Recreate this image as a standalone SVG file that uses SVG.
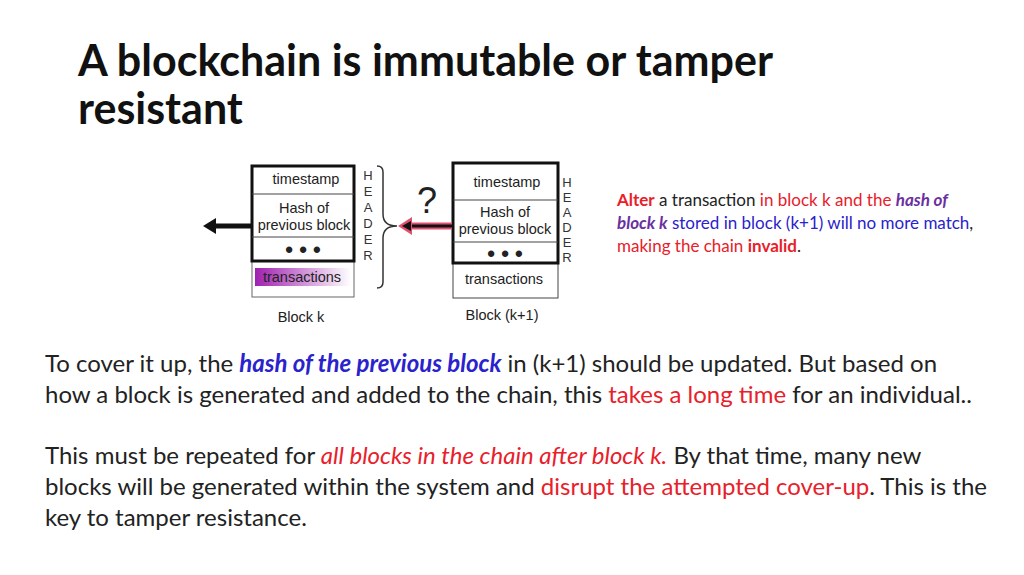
<svg xmlns="http://www.w3.org/2000/svg" width="1024" height="575" viewBox="0 0 1024 575">
<style>
.t{font-family:"Liberation Sans",Arial,sans-serif;font-size:14.5px;fill:#222;text-anchor:middle}
.h{font-family:"Liberation Sans",Arial,sans-serif;font-size:13px;fill:#333;text-anchor:middle}
.c{font-family:Lato,"Open Sans",sans-serif}
.r{fill:#e8202a}.b{fill:#2a22cc}.p{fill:#6a30a0;font-weight:bold;font-style:italic}
</style>
<defs>
<linearGradient id="g" x1="0" x2="1"><stop offset="0" stop-color="#a020b0"/><stop offset="1" stop-color="#fff"/></linearGradient>
</defs>
<rect width="1024" height="575" fill="#fff"/>
<text class="c" x="78" y="76" font-size="43" font-weight="bold" fill="#111">A blockchain is immutable or tamper</text>
<text class="c" x="78" y="124" font-size="43" font-weight="bold" fill="#111">resistant</text>
<g id="blockk">
<rect x="252" y="261" width="102" height="36" fill="#fff" stroke="#666"/>
<rect x="255" y="268" width="96" height="18" fill="url(#g)"/>
<text class="t" x="302" y="282">transactions</text>
<rect x="252" y="166" width="102" height="95" fill="#fff" stroke="#111" stroke-width="3"/>
<line x1="252" y1="194" x2="354" y2="194" stroke="#444"/>
<line x1="252" y1="237" x2="354" y2="237" stroke="#444"/>
<text class="t" x="306" y="184">timestamp</text>
<text class="t" x="304" y="213">Hash of</text>
<text class="t" x="304" y="230">previous block</text>
<text class="t" x="303" y="257" style="font-size:22px;font-weight:bold">• • •</text>
<text class="t" x="301" y="322">Block k</text>
<g class="h"><text x="368" y="180">H</text><text x="368" y="196">E</text><text x="368" y="212">A</text><text x="368" y="228">D</text><text x="368" y="244">E</text><text x="368" y="260">R</text></g>
</g>
<g id="blockk1">
<rect x="453" y="263" width="105" height="35" fill="#fff" stroke="#444"/>
<text class="t" x="504" y="284">transactions</text>
<rect x="453" y="163" width="105" height="100" fill="#fff" stroke="#111" stroke-width="3"/>
<line x1="453" y1="200" x2="558" y2="200" stroke="#444"/>
<line x1="453" y1="242" x2="558" y2="242" stroke="#444"/>
<text class="t" x="507" y="187">timestamp</text>
<text class="t" x="505" y="217">Hash of</text>
<text class="t" x="505" y="234">previous block</text>
<text class="t" x="505" y="261" style="font-size:22px;font-weight:bold">• • •</text>
<text class="t" x="502" y="320">Block (k+1)</text>
<g class="h"><text x="567" y="187">H</text><text x="567" y="202">E</text><text x="567" y="217">A</text><text x="567" y="232">D</text><text x="567" y="247">E</text><text x="567" y="262">R</text></g>
</g>
<g id="connectors">
<path d="M377,166 Q383,166 383,172 L383,214 Q383,226 397,226 Q383,226 383,238 L383,282 Q383,288 377,288" fill="none" stroke="#333" stroke-width="1.5"/>
<line x1="252" y1="226" x2="214" y2="226" stroke="#111" stroke-width="5"/>
<polygon points="203,226 216,218 216,234" fill="#111"/>
<line x1="452" y1="226" x2="410" y2="226" stroke="#e05070" stroke-width="7"/>
<line x1="452" y1="226" x2="410" y2="226" stroke="#111" stroke-width="3"/>
<polygon points="398,226 412,217 412,235" fill="#e05070"/>
<polygon points="402,226 411,221 411,231" fill="#111"/>
<text class="t" x="427" y="213" style="font-size:36px">?</text>
</g>
<g class="c" font-size="17" fill="#222">
<text x="617" y="206"><tspan class="r" font-weight="bold">Alter</tspan> a transaction <tspan class="r">in block k and the </tspan><tspan class="p">hash of</tspan></text>
<text x="617" y="229"><tspan class="p">block k</tspan><tspan class="b"> stored in block (k+1) will no more match</tspan>,</text>
<text x="617" y="252"><tspan class="r">making the chain </tspan><tspan class="r" font-weight="bold">invalid</tspan>.</text>
</g>
<g class="c" font-size="24" fill="#222">
<text x="45" y="372">To cover it up, the <tspan class="b" font-weight="bold" font-style="italic">hash of the previous block</tspan> in (k+1) should be updated. But based on</text>
<text x="45" y="403">how a block is generated and added to the chain, this <tspan class="r">takes a long time</tspan> for an individual..</text>
<text x="45" y="464">This must be repeated for <tspan class="r" font-style="italic">all blocks in the chain after block k.</tspan> By that time, many new</text>
<text x="45" y="495">blocks will be generated within the system and <tspan class="r">disrupt the attempted cover-up</tspan>. This is the</text>
<text x="45" y="526">key to tamper resistance.</text>
</g>
</svg>
